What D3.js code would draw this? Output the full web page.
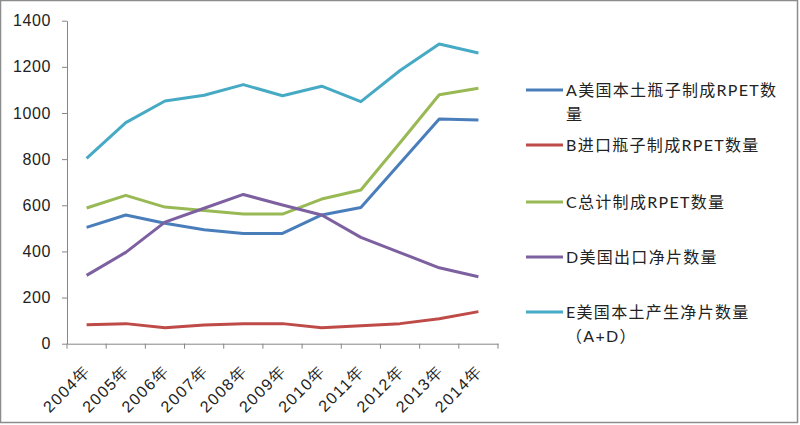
<!DOCTYPE html>
<html>
<head>
<meta charset="utf-8">
<script src="https://cdn.jsdelivr.net/npm/d3@7"></script>
<style>
  body { margin: 0; background: #fff; }
  svg { font-family: Lato, "Noto Sans CJK SC", sans-serif; }
</style>
</head>
<body>
<svg width="800" height="425"></svg>
<script>
const years = ["2004年", "2005年", "2006年", "2007年", "2008年", "2009年", "2010年", "2011年", "2012年", "2013年", "2014年"];
const seriesA = [504, 558, 522, 494, 478, 478, 558, 590, 782, 974, 970];
const seriesB = [82, 87, 69, 81, 87, 87, 69, 78, 87, 108, 139];
const seriesC = [588, 643, 592, 577, 562, 562, 627, 666, 871, 1079, 1107];
const seriesD = [296, 396, 527, 587, 647, 601, 558, 461, 395, 329, 290];
const seriesE = [803, 958, 1052, 1077, 1123, 1075, 1116, 1049, 1184, 1299, 1260];
const yTicks = [0, 200, 400, 600, 800, 1000, 1200, 1400];

const series = [
  { name: ["A美国本土瓶子制成RPET数", "量"], values: seriesA, color: "#4a7ebb", ly: 90 },
  { name: ["B进口瓶子制成RPET数量"], values: seriesB, color: "#be4b48", ly: 145 },
  { name: ["C总计制成RPET数量"], values: seriesC, color: "#98b954", ly: 202 },
  { name: ["D美国出口净片数量"], values: seriesD, color: "#7d60a0", ly: 257 },
  { name: ["E美国本土产生净片数量", "（A+D）"], values: seriesE, color: "#46aac5", ly: 312 }
];

const svg = d3.select("svg");

// frame round the picture
svg.append("rect")
  .attr("x", 0.5).attr("y", 0.5).attr("width", 797).attr("height", 422)
  .attr("fill", "#fff").attr("stroke", "#8c8c8c").attr("stroke-width", 1.5);

const x = d3.scaleBand().domain(years).range([67, 498]);
const y = d3.scaleLinear().domain([0, 1400]).range([343.7, 20.7]);

const g = svg.append("g");

// y axis
const yAxis = g.append("g")
  .attr("transform", "translate(67,0)")
  .call(d3.axisLeft(y).tickValues(yTicks).tickFormat(d3.format("d")).tickSize(5).tickPadding(11).tickSizeOuter(0));
yAxis.select(".domain").attr("stroke", "#868686");
yAxis.selectAll(".tick line").attr("stroke", "#868686");
yAxis.selectAll("text").attr("font-size", 16).attr("fill", "#222").attr("letter-spacing", 0.6);

// x axis
const xAxis = g.append("g")
  .attr("transform", "translate(0," + y(0) + ")")
  .call(d3.axisBottom(x).tickSize(0).tickSizeOuter(0));
xAxis.select(".domain").attr("stroke", "#868686");
xAxis.selectAll(".tick line").remove();
// band boundary ticks
const bounds = years.map(d => x(d)).concat([x.range()[1]]);
xAxis.selectAll(".bound")
  .data(bounds)
  .enter()
  .append("line")
    .attr("x1", d => d).attr("x2", d => d)
    .attr("y1", 0).attr("y2", 5)
    .attr("stroke", "#868686");
xAxis.selectAll(".tick text")
  .attr("font-size", 16)
  .attr("fill", "#222")
  .attr("letter-spacing", 1.5)
  .attr("text-anchor", "end")
  .attr("y", 0)
  .attr("dy", 0)
  .attr("transform", "translate(5,28) rotate(-45)");

// lines
const line = d3.line()
  .x((d, i) => x(years[i]) + x.bandwidth() / 2)
  .y(d => y(d));

g.selectAll(".series")
  .data(series)
  .enter()
  .append("path")
    .attr("d", d => line(d.values))
    .attr("fill", "none")
    .attr("stroke", d => d.color)
    .attr("stroke-width", 3)
    .attr("stroke-linejoin", "round");

// legend
const legend = svg.selectAll(".legend")
  .data(series)
  .enter()
  .append("g")
    .attr("transform", d => "translate(526," + d.ly + ")");

legend.append("line")
  .attr("x1", 0).attr("x2", 37)
  .attr("stroke", d => d.color)
  .attr("stroke-width", 3);

legend.each(function(d) {
  const t = d3.select(this).append("text")
    .attr("font-size", 16)
    .attr("letter-spacing", 1.3)
    .attr("fill", "#222");
  d.name.forEach((s, i) => {
    t.append("tspan")
      .attr("x", 40)
      .attr("y", i * 24 + 6)
      .text(s);
  });
});
</script>
</body>
</html>
